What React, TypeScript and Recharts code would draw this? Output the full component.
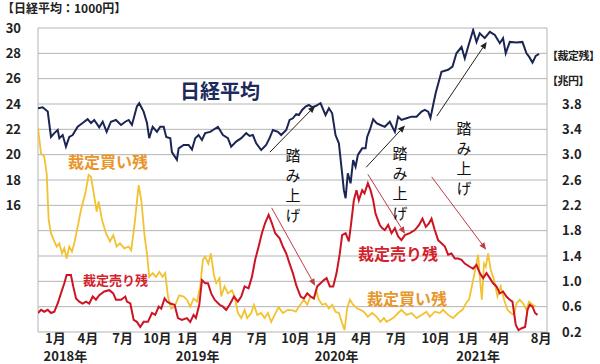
import { LineChart, Line, XAxis, YAxis, CartesianGrid, ReferenceLine } from "recharts"

const FONT = '"Noto Sans CJK JP", "Noto Sans", sans-serif'

// x positions are months counted from the left edge of the plot (mid Nov 2017)
const X_MAX = 43.9

const monthTicks = [1.5, 4.3, 7.3, 10.3, 12.9, 15.9, 18.9, 22.2, 24.9, 27.9, 30.9, 34.3, 37.1, 39.8, 43.4]
const monthLabels = ["1月", "4月", "7月", "10月", "1月", "4月", "7月", "10月", "1月", "4月", "7月", "10月", "1月", "4月", "8月"]
// year caption shown under the matching 1月 tick
const yearLabels: Record<number, string> = { 0: "2018年", 4: "2019年", 8: "2020年", 12: "2021年" }
const gridMonths = [0, 3, 6, 9, 12, 15, 18, 21, 24, 27, 30, 33, 36, 39, 42, X_MAX]

const nikkeiTicks = [16, 18, 20, 22, 24, 26, 28, 30]
const balanceTicks = [0.2, 0.6, 1.0, 1.4, 1.8, 2.2, 2.6, 3.0, 3.4, 3.8]
const gridLevels = [6, 8, 10, 12, 14, 16, 18, 20, 22, 24, 26, 28, 30]

// 日経平均 (1000円)
const nikkeiMonths = [
  0, 0.4, 0.84, 1.12, 1.41, 1.7, 1.84, 2.13, 2.41, 2.7,
  2.99, 3.42, 3.85, 4.28, 4.57, 4.85, 5.28, 5.58, 5.92, 6.29,
  6.72, 7.16, 7.53, 7.82, 8.1, 8.53, 8.73, 9.11, 9.4, 9.59,
  9.89, 10.26, 10.54, 10.84, 11.06, 11.41, 11.55, 11.98, 12.13, 12.56,
  12.99, 13.28, 13.56, 13.85, 14.14, 14.42, 14.85, 15.09, 15.52, 15.95,
  16.38, 16.66, 17.09, 17.53, 17.96, 18.25, 18.53, 18.82, 19.25, 19.68,
  19.97, 20.26, 20.69, 20.97, 21.41, 21.7, 21.98, 22.27, 22.5, 22.78,
  23.08, 23.36, 23.65, 23.94, 24.37, 24.8, 25.09, 25.37, 25.66, 25.95,
  26.23, 26.38, 26.53, 26.72, 26.96, 27.18, 27.39, 27.59, 27.96, 28.25,
  28.39, 28.62, 28.91, 29.2, 29.54, 29.91, 30.34, 30.78, 31.06, 31.35,
  31.78, 32.22, 32.65, 33.08, 33.36, 33.65, 33.85, 34.08, 34.31, 34.8,
  35.37, 35.75, 36.09, 36.53, 36.81, 37.09, 37.53, 37.82, 38.1, 38.53,
  38.97, 39.4, 39.83, 40.11, 40.34, 40.69, 41.27, 41.78, 42.13, 42.35,
  42.65, 42.93, 43.22,
]
const nikkeiValues = [
  23.66, 23.74, 23.4, 21.4, 21.7, 21.95, 21.3, 21.55, 20.63, 21.4,
  21.55, 22.2, 22.5, 22.8, 22.5, 22.74, 22.16, 22.6, 21.8, 22.6,
  22.74, 22.34, 22.6, 22.74, 22.35, 23.8, 24.06, 23.4, 22.5, 21.3,
  22.2, 21.8, 22.2, 22.2, 21.4, 21.3, 20.2, 19.6, 20.5, 20.77,
  20.77, 20.4, 21.3, 21.55, 21.16, 21.7, 21.8, 21.95, 22.2, 21.55,
  21.3, 20.63, 21.03, 21.3, 21.7, 21.48, 21.55, 20.9, 20.37, 20.77,
  21.3, 21.95, 21.8, 21.55, 21.95, 22.74, 22.87, 23.2, 23.13, 23.53,
  23.8, 23.92, 23.74, 23.84, 24.06, 23.13, 23.66, 23.27, 21.55, 20.9,
  18.53, 17.2, 16.56, 18.53, 17.74, 19.58, 19.05, 19.98, 20.5, 20.5,
  21.4, 21.95, 22.8, 22.48, 22.34, 22.2, 22.6, 21.8, 23.0, 22.74,
  22.87, 23.0, 23.0, 23.4, 23.53, 23.4, 22.9, 23.92, 24.9, 26.55,
  26.7, 26.95, 28.0, 28.5, 27.6, 28.5, 29.84, 28.9, 29.58, 29.2,
  29.7, 29.45, 28.8, 29.2, 28.0, 28.9, 28.85, 28.9, 28.0, 27.74,
  27.27, 27.8, 27.95,
]

// 裁定買い残 (兆円)
const buyMonths = [
  0, 0.26, 0.54, 0.75, 0.92, 1.12, 1.41, 1.61, 1.84, 2.07,
  2.27, 2.47, 2.7, 2.93, 3.13, 3.42, 3.71, 4.08, 4.37, 4.57,
  4.85, 5.06, 5.23, 5.52, 5.86, 6.21, 6.49, 6.78, 7.07, 7.44,
  7.82, 8.04, 8.34, 8.68, 8.91, 9.2, 9.4, 9.59, 9.89, 10.17,
  10.46, 10.75, 10.97, 11.21, 11.49, 11.78, 12.18, 12.56, 12.84, 13.13,
  13.42, 13.71, 13.99, 14.22, 14.42, 14.69, 14.91, 15.17, 15.37, 15.66,
  15.8, 16.09, 16.38, 16.72, 16.96, 17.24, 17.53, 17.82, 18.04, 18.39,
  18.62, 18.91, 19.25, 19.54, 19.83, 20.11, 20.41, 20.75, 21.12, 21.55,
  21.98, 22.24, 22.5, 22.93, 23.22, 23.51, 23.79, 24.03, 24.22, 24.51,
  24.8, 25.09, 25.37, 25.66, 25.95, 26.23, 26.44, 26.66, 26.9, 27.18,
  27.53, 27.82, 28.1, 28.45, 28.82, 29.2, 29.54, 29.83, 30.06, 30.63,
  31.06, 31.35, 31.78, 32.22, 32.65, 33.08, 33.51, 33.79, 34.22, 34.66,
  34.94, 35.37, 35.8, 36.23, 36.61, 36.9, 37.18, 37.53, 37.76, 37.96,
  38.13, 38.28, 38.47, 38.62, 38.82, 39.05, 39.34, 39.63, 39.91, 40.2,
  40.49, 40.78, 41.06, 41.27, 41.55, 41.84, 42.13, 42.35, 42.65, 42.93,
]
const buyValues = [
  3.42, 3.02, 2.97, 2.7, 1.97, 1.76, 1.63, 1.55, 1.6, 1.44,
  1.52, 1.36, 1.55, 1.47, 1.6, 1.86, 2.13, 2.39, 2.68, 2.65,
  2.34, 2.1, 2.26, 1.97, 1.76, 1.63, 1.73, 1.55, 1.6, 1.52,
  1.55, 1.49, 1.92, 2.52, 2.28, 1.7, 1.44, 1.07, 1.13, 1.07,
  1.15, 1.07, 1.13, 0.76, 0.57, 0.6, 0.78, 0.76, 0.71, 0.6,
  0.73, 0.68, 0.92, 1.34, 1.39, 1.28, 1.44, 1.1, 0.97, 1.05,
  0.76, 0.92, 0.81, 0.86, 0.76, 0.5, 0.42, 0.55, 0.42, 0.5,
  0.63, 0.47, 0.5, 0.42, 0.5, 0.36, 0.47, 0.59, 0.5, 0.55,
  0.54, 0.52, 0.6, 0.71, 0.63, 0.76, 0.73, 0.84, 0.71, 0.63,
  0.65, 0.57, 0.63, 0.52, 0.5, 0.34, 0.23, 0.57, 0.71, 0.63,
  0.57, 0.55, 0.52, 0.44, 0.5, 0.44, 0.36, 0.42, 0.36, 0.42,
  0.5, 0.55, 0.47, 0.5, 0.42, 0.47, 0.52, 0.44, 0.52, 0.5,
  0.55, 0.47, 0.42, 0.5, 0.55, 0.65, 0.71, 1.02, 1.23, 1.42,
  1.02, 0.71, 1.28, 1.23, 1.44, 1.18, 1.02, 0.76, 0.92, 0.71,
  0.55, 0.5, 0.47, 0.65, 0.71, 0.65, 0.55, 0.68, 0.63, 0.6,
]

// 裁定売り残 (兆円)
const sellMonths = [
  0, 0.26, 0.54, 0.84, 1.12, 1.41, 1.7, 1.98, 2.27, 2.47,
  2.84, 3.04, 3.28, 3.56, 3.85, 4.14, 4.42, 4.72, 5.0, 5.28,
  5.72, 6.15, 6.49, 6.72, 7.16, 7.53, 7.67, 7.96, 8.25, 8.53,
  8.82, 9.11, 9.48, 9.83, 10.11, 10.41, 10.63, 10.92, 11.12, 11.41,
  11.78, 12.07, 12.41, 12.84, 13.13, 13.42, 13.62, 13.91, 14.14, 14.42,
  14.66, 14.94, 15.23, 15.66, 15.95, 16.23, 16.53, 16.9, 17.24, 17.53,
  17.82, 18.16, 18.45, 18.73, 19.03, 19.31, 19.59, 19.89, 20.17, 20.46,
  20.84, 21.12, 21.41, 21.7, 21.98, 22.27, 22.65, 22.93, 23.22, 23.51,
  23.79, 24.08, 24.37, 24.66, 24.89, 25.17, 25.46, 25.75, 26.03, 26.23,
  26.53, 26.81, 27.01, 27.24, 27.47, 27.67, 27.96, 28.16, 28.45, 28.68,
  28.91, 29.11, 29.31, 29.48, 29.68, 29.91, 30.2, 30.49, 30.78, 31.06,
  31.35, 31.64, 32.07, 32.5, 32.87, 33.16, 33.45, 33.73, 33.94, 34.22,
  34.51, 34.8, 35.09, 35.37, 35.66, 35.95, 36.23, 36.53, 36.81, 37.24,
  37.53, 37.82, 38.1, 38.39, 38.68, 38.97, 39.25, 39.54, 39.83, 40.11,
  40.4, 40.69, 40.92, 41.06, 41.21, 41.44, 41.72, 42.01, 42.22, 42.41,
  42.65, 42.87, 43.08,
]
const sellValues = [
  0.5, 0.55, 0.52, 0.55, 0.5, 0.52, 0.65, 0.81, 0.97, 1.1,
  1.1, 0.92, 0.73, 0.68, 0.65, 0.68, 0.65, 0.76, 0.71, 0.78,
  0.84, 0.86, 0.81, 0.71, 0.71, 0.76, 0.68, 0.65, 0.39, 0.36,
  0.28, 0.36, 0.36, 0.5, 0.47, 0.6, 0.57, 0.73, 0.68, 0.65,
  0.63, 0.42, 0.39, 0.42, 0.36, 0.47, 0.42, 0.63, 1.02, 0.97,
  0.97, 0.81, 0.71, 0.63, 0.6, 0.55, 0.63, 0.76, 0.68, 0.76,
  0.92, 0.89, 1.07, 1.34, 1.55, 1.76, 1.92, 2.05, 1.92, 1.76,
  1.68, 1.55, 1.44, 1.28, 1.13, 0.94, 0.76, 0.73, 0.81, 0.76,
  0.73, 0.92, 0.97, 1.02, 1.05, 0.92, 0.92, 1.13, 1.44, 1.73,
  1.76, 1.63, 1.92, 2.28, 2.44, 2.28, 2.44, 2.39, 2.55, 2.44,
  2.28, 2.07, 1.97, 1.89, 1.84, 1.81, 1.89, 1.76, 1.84, 1.71,
  1.65, 1.73, 1.76, 1.81, 1.89, 1.99, 1.86, 1.92, 1.99, 1.81,
  1.65, 1.6, 1.55, 1.42, 1.44, 1.36, 1.36, 1.34, 1.28, 1.23,
  1.2, 1.26, 1.13, 1.05, 1.13, 1.05, 0.97, 0.92, 0.81, 0.84,
  0.76, 0.71, 0.68, 0.5, 0.31, 0.23, 0.26, 0.28, 0.55, 0.63,
  0.6, 0.5, 0.47,
]

// 踏み上げ arrows: Nikkei scale (black) and balance scale (red)
const riseArrows = [
  [20.0, 20.2, 23.9, 23.85],
  [28.3, 19.0, 31.65, 22.3],
  [34.4, 23.05, 38.7, 28.9],
]
const fallArrows = [
  [20.15, 2.16, 23.9, 0.93],
  [28.45, 2.69, 31.65, 1.75],
  [33.95, 2.65, 38.65, 1.5],
]

const nikkeiData = nikkeiMonths.map((m, i) => ({ m, v: nikkeiValues[i] }))
const buyData = buyMonths.map((m, i) => ({ m, v: buyValues[i] }))
const sellData = sellMonths.map((m, i) => ({ m, v: sellValues[i] }))

const tickStyle = { fontSize: 13, fontWeight: 700, fill: "#222", fontFamily: FONT }

function MonthTick(props: any) {
  const { x, y, index } = props
  const year = yearLabels[index]
  return (
    <g fontFamily={FONT} fontSize={13} fontWeight={700} fill="#222" textAnchor="middle">
      <text x={x} y={y + 11}>{monthLabels[index]}</text>
      {year && <text x={x + 10} y={y + 29}>{year}</text>}
    </g>
  )
}

function Arrow(props: any) {
  const { x1, y1, x2, y2, stroke } = props
  const a = Math.atan2(y2 - y1, x2 - x1)
  const len = 7
  const w = 3
  const bx = x2 - len * Math.cos(a)
  const by = y2 - len * Math.sin(a)
  const pts = `${x2},${y2} ${bx + w * Math.sin(a)},${by - w * Math.cos(a)} ${bx - w * Math.sin(a)},${by + w * Math.cos(a)}`
  return (
    <g>
      <line x1={x1} y1={y1} x2={bx} y2={by} stroke={stroke} strokeWidth={1} />
      <polygon points={pts} fill={stroke} />
    </g>
  )
}

// vertical caption written top to bottom
function Vertical({ x, y, text }: { x: number; y: number; text: string }) {
  return (
    <text
      x={x}
      y={y}
      fontFamily={FONT}
      fontSize={15}
      fill="#111"
      style={{ writingMode: "vertical-rl", letterSpacing: 5 }}
    >
      {text}
    </text>
  )
}

export default function App() {
  return (
    <div style={{ position: "relative", width: 600, height: 364, background: "#fff" }}>
      <style>{"body{margin:0}"}</style>
      <LineChart width={600} height={364} margin={{ top: 28, right: 0, bottom: 0, left: 0 }}>
        <XAxis xAxisId="g" type="number" hide height={0} domain={[0, X_MAX]} ticks={gridMonths} allowDataOverflow />
        <YAxis yAxisId="g" hide width={0} domain={[6, 30]} ticks={gridLevels} allowDataOverflow />
        <CartesianGrid xAxisId="g" yAxisId="g" stroke="#b4b4b4" />
        <XAxis
          xAxisId="m"
          dataKey="m"
          type="number"
          domain={[0, X_MAX]}
          ticks={monthTicks}
          interval={0}
          axisLine={false}
          tickLine={false}
          tickSize={0}
          tickMargin={0}
          height={32}
          tick={<MonthTick />}
          allowDataOverflow
        />
        <YAxis
          yAxisId="left"
          orientation="left"
          width={38}
          domain={[6, 30]}
          ticks={nikkeiTicks}
          interval={0}
          axisLine={false}
          tickLine={false}
          tickSize={0}
          tickMargin={17}
          tick={tickStyle}
          allowDataOverflow
        />
        <YAxis
          yAxisId="right"
          orientation="right"
          width={53}
          domain={[0.2, 5.0]}
          ticks={balanceTicks}
          interval={0}
          tickFormatter={(v: number) => v.toFixed(1)}
          axisLine={false}
          tickLine={false}
          tickSize={0}
          tickMargin={15}
          tick={{ ...tickStyle, textAnchor: "start" }}
          allowDataOverflow
        />

        <Line data={buyData} dataKey="v" xAxisId="m" yAxisId="right" type="linear" stroke="#f2c230" strokeWidth={1.8} dot={false} isAnimationActive={false} />
        <Line data={sellData} dataKey="v" xAxisId="m" yAxisId="right" type="linear" stroke="#cc1424" strokeWidth={2} dot={false} isAnimationActive={false} />
        <Line data={nikkeiData} dataKey="v" xAxisId="m" yAxisId="left" type="linear" stroke="#1b2553" strokeWidth={2} dot={false} isAnimationActive={false} />

        {riseArrows.map((a, i) => (
          <ReferenceLine
            key={"r" + i}
            xAxisId="m"
            yAxisId="left"
            segment={[{ x: a[0], y: a[1] }, { x: a[2], y: a[3] }]}
            stroke="#222"
            ifOverflow="visible"
            shape={Arrow}
          />
        ))}
        {fallArrows.map((a, i) => (
          <ReferenceLine
            key={"f" + i}
            xAxisId="m"
            yAxisId="right"
            segment={[{ x: a[0], y: a[1] }, { x: a[2], y: a[3] }]}
            stroke="#c23a44"
            ifOverflow="visible"
            shape={Arrow}
          />
        ))}
      </LineChart>

      <svg width={600} height={364} style={{ position: "absolute", left: 0, top: 0, pointerEvents: "none" }}>
        <g fontFamily={FONT} fontWeight={700}>
          <text x={2} y={13} fontSize={12} fill="#222">【日経平均：1000円】</text>
          <text x={547} y={60} fontSize={11} letterSpacing={-0.5} fill="#222">【裁定残】</text>
          <text x={547} y={85} fontSize={11} letterSpacing={-0.5} fill="#222">【兆円】</text>
          <text x={180} y={99} fontSize={20} fill="#1c2a5c">日経平均</text>
          <text x={68} y={168} fontSize={16} fill="#e8962c">裁定買い残</text>
          <text x={83} y={285} fontSize={13} fill="#d41f2d">裁定売り残</text>
          <text x={358} y={260} fontSize={16} fill="#d41f2d">裁定売り残</text>
          <text x={367} y={305} fontSize={16} fill="#e8962c">裁定買い残</text>
        </g>
        <Vertical x={293} y={148} text="踏み上げ" />
        <Vertical x={400} y={146} text="踏み上げ" />
        <Vertical x={464} y={121} text="踏み上げ" />
      </svg>
    </div>
  )
}
